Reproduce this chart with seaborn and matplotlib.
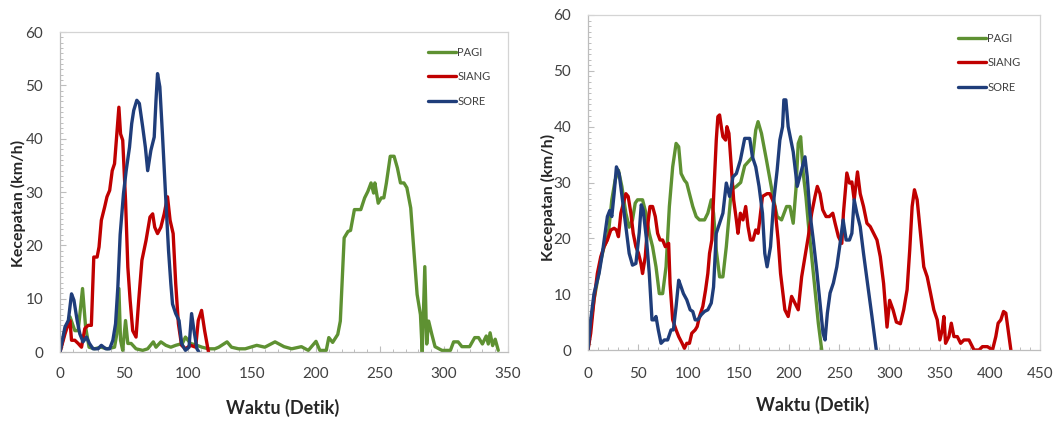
import matplotlib
matplotlib.use("Agg")
import matplotlib.pyplot as plt
from matplotlib.ticker import MultipleLocator
import seaborn as sns
import pandas as pd

# ---------------- data (time in s, speed in km/h) ----------------
series_names = ["PAGI", "SIANG", "SORE"]

left_pagi = [(0, 0), (3.9, 4), (7.8, 6.6), (11.6, 4), (14.2, 4), (17.6, 11.9), (20, 4.7), (22.7, 0.9),
             (27, 0.6), (32, 0.9), (37, 0.6), (42.6, 0.9), (44.4, 3.4), (46, 11.9), (47.3, 2.2), (49, 0.3),
             (51.2, 5.9), (53, 1.6), (55.6, 1.6), (59.4, 0.6), (64.6, 0.3), (68.5, 0.6), (72.9, 1.9),
             (75, 0.9), (78.8, 1.9), (82.7, 1.25), (86.6, 0.9), (90.4, 1.25), (95.6, 1.6), (98, 2.8),
             (102, 1.6), (107, 1.25), (111, 0.9), (116, 0.6), (121, 0.6), (124, 0.9), (130.5, 1.9),
             (134, 0.9), (139.5, 0.6), (144.7, 0.6), (153.7, 1.25), (160, 0.9), (168, 1.9), (175, 1.0),
             (181, 0.6), (188.6, 1.0), (194, 0.3), (200, 2.0), (203, 0.3), (208, 0.3), (210, 2.7),
             (213, 1.8), (217, 3.3), (219, 5.8), (222, 21.4), (225, 22.6), (227, 22.8), (230, 26.7),
             (235, 26.7), (238, 28.9), (240.5, 30.1), (243, 31.7), (245, 29.8), (246, 31.7), (248.6, 27.9),
             (251, 28.9), (253, 28.9), (255, 31.7), (258, 36.7), (261, 36.7), (263.6, 34.5), (266, 31.7),
             (268.7, 31.7), (271, 30.8), (274, 27), (276.5, 18.9), (279, 10.8), (281.6, 7), (283, 0),
             (285, 16), (286.5, 1.5), (288, 5.8), (290.5, 3.3), (293, 1), (298.4, 0.3), (305, 0.3),
             (307.5, 1.9), (311, 1.9), (314, 1), (320, 1), (324, 2.7), (327, 2.7), (330, 1.5), (333, 3),
             (334.6, 1.5), (336, 3.6), (338, 1.2), (340, 2.4), (342.4, 0.3)]

left_siang = [(0, 0), (3.9, 3.4), (6.5, 5.3), (7.8, 5.9), (9, 2.2), (11.6, 2.2), (14.2, 1.6), (16.8, 0.9),
              (19.4, 4.4), (22, 5), (24.5, 5), (26.4, 17.8), (29, 17.8), (30.5, 19.7), (32.3, 24.7),
              (34.9, 27.2), (36.7, 29.1), (38.8, 30.3), (40.8, 34), (42.6, 35.3), (44.4, 40.9), (46, 45.9),
              (47.3, 40.9), (49, 39.7), (51.2, 28.4), (53, 15.9), (54.8, 9.7), (56.8, 4), (59.4, 2.8),
              (61.5, 9.7), (64, 17.2), (67.2, 20.9), (70.3, 25.3), (72.4, 25.9), (74, 23.4), (76.2, 22.2),
              (78.8, 23.4), (81.4, 25.9), (84, 29.1), (86, 24.7), (88.4, 22.2), (90.4, 12.8), (92.5, 5.3),
              (95, 1.25), (98, 0.6), (102, 1.25), (106, 0.9), (108, 5.9), (110.6, 7.8), (113, 4), (116, 0)]

left_sore = [(0, 0), (3.9, 4.7), (6.5, 5.9), (9, 10.9), (10.9, 9.7), (13.4, 5.9), (15.5, 3.4), (18, 1.9),
             (20.7, 2.8), (23, 1.6), (25.8, 0.6), (29.7, 0.6), (32.3, 1.25), (35.7, 0.6), (38.8, 0.6),
             (41.3, 2.2), (43.4, 5.3), (45.2, 12.2), (47, 22), (49.6, 29.7), (51.7, 34), (54.3, 38.4),
             (56, 42.8), (57.6, 45.3), (60, 47.2), (62, 46.6), (64.6, 42.2), (66.7, 38.4), (68.5, 34),
             (71, 37.8), (73.6, 40.3), (75, 47.2), (76.2, 52.2), (78, 49.7), (80, 41), (82.7, 28.4),
             (84.8, 19), (86.6, 12.8), (87.9, 9), (90.4, 7.2), (93, 5.9), (95, 1.6), (98, 0.3),
             (100.8, 0.9), (102.8, 7.2), (104.7, 4), (107, 0.6), (108.5, 0)]

right_pagi = [(0, 0), (3, 5), (6, 9), (9, 12), (12.7, 16), (16, 18.5), (19, 19.7), (21, 22), (23.7, 26.9),
              (27, 30.4), (30.3, 32.2), (33.7, 29.3), (37.7, 24.5), (41, 22), (44.3, 23.3), (47, 26.3),
              (49.3, 26.9), (54.3, 26.9), (57.7, 24.5), (61, 20.9), (64.3, 18.5), (67.7, 14.9), (71, 10.1),
              (74.3, 10.1), (77.7, 14.9), (81, 25.7), (84.3, 32.8), (87.7, 37), (90.3, 36.4), (92.7, 31.6),
              (96, 30.4), (98.3, 29.9), (101, 28), (104.3, 25.7), (107.7, 23.9), (111, 23.3), (116, 23.3),
              (119.3, 24.5), (122.7, 26.9), (125, 24.5), (127.7, 17.9), (131, 13.1), (134.3, 13.1),
              (137.7, 18.5), (142.7, 28.7), (147.7, 29.3), (152, 30), (156, 33), (161, 34), (164, 34.6),
              (167, 39.4), (169.3, 40.9), (172.7, 38.8), (177.7, 34), (184.3, 27.4), (188.3, 23.9),
              (192.7, 23.3), (197.7, 25.7), (201, 25.7), (204.3, 22.7), (207, 28.7), (209.3, 37),
              (211.7, 38.2), (214.3, 31.6), (217, 27.4), (219.3, 22.7), (222.7, 16.7), (226, 10.8),
              (229.3, 4.8), (232.7, 0)]

right_siang = [(0, 0), (2.7, 3), (6, 9), (9.3, 13.7), (12.7, 16.7), (16, 18.5), (19.3, 19.7), (22.7, 21.5),
               (26, 21.8), (28.3, 21.5), (30.3, 20.3), (32.7, 24.5), (35.3, 26.3), (37.7, 28), (40, 27.5),
               (42.7, 24.5), (45, 20.9), (47.7, 18.5), (50.3, 17.3), (52.7, 15.5), (54.3, 13.7), (57, 16.7),
               (59.3, 22.1), (61.7, 25.7), (64.3, 25.7), (67, 23.9), (69.3, 20.9), (71.7, 19.7),
               (74.3, 19.7), (77, 18.5), (80.3, 19.1), (81.7, 11.9), (84.3, 5.4), (87.7, 3.6), (90.3, 2.4),
               (93.7, 1.2), (96, 0.3), (98.3, 1.2), (101, 1.2), (103.3, 3), (106.7, 3.6), (108.7, 4.2),
               (111, 6), (114.3, 7.8), (117, 10.7), (119.3, 13.7), (121, 17.3), (123.3, 19.7), (124.3, 24.5),
               (126, 31), (127.7, 37.6), (129.3, 41.8), (131, 42.1), (132.7, 40), (134.3, 38.2), (137, 37.6),
               (138.3, 40), (140.3, 38.8), (142.7, 32.8), (145, 26.9), (147.7, 23.3), (149.3, 20.9),
               (151.7, 24.5), (154.3, 23.3), (157, 25.7), (159.3, 22.1), (161.7, 19.7), (164.3, 19.7),
               (167, 21.5), (169.3, 20.9), (171, 23.3), (173.7, 27.5), (178.3, 28), (181, 28), (183.7, 26.9),
               (186, 25.7), (189.3, 19.7), (191.7, 13.7), (193.7, 10.7), (196, 7.2), (199.3, 6),
               (202.7, 9.6), (206, 8.4), (209.3, 7.2), (212.7, 13.1), (216, 16.7), (219.3, 20.3),
               (222.7, 24.5), (226, 27.5), (228.3, 29.3), (231, 28), (233.7, 25.1), (237, 23.9),
               (240.3, 23.9), (243.7, 24.5), (246, 22.7), (249.3, 20.3), (252.7, 19.1), (254.3, 24.5),
               (257.7, 31.7), (260.3, 29.9), (262.7, 30.1), (265, 26.9), (268.3, 31.9), (271, 28),
               (274.3, 25.7), (277.7, 22.7), (281, 22.1), (284.3, 20.9), (287.7, 19.7), (291, 16.7),
               (294.3, 11.9), (297.7, 4.1), (300.3, 8.9), (303.7, 7.2), (307, 5), (311, 4.7), (314.3, 7.2),
               (317.7, 10.8), (320.3, 17.9), (322.7, 25.7), (325, 28.7), (327.7, 26.9), (331, 20.9),
               (334.3, 14.9), (337.7, 13.1), (341, 10.2), (344.3, 7.2), (347.7, 5.4), (350.3, 1.8),
               (352.7, 3.6), (354.3, 6), (356, 1.2), (359.3, 2.4), (361.7, 4.8), (364.3, 2.4), (367.7, 2.4),
               (371, 1.2), (374.3, 1.8), (379.3, 1.8), (382.7, 0.6), (384.3, 0), (389.3, 0), (392.7, 0.6),
               (397.7, 0.6), (402.7, 0), (406, 2.4), (408.3, 4.8), (411, 5.4), (413.7, 6.9), (416, 6.6),
               (418.3, 3.6), (421, 0)]

right_sore = [(0, 0), (2.7, 5.4), (6, 10.1), (11, 13.7), (14.3, 17.3), (17, 20.9), (19.3, 23.9), (21.7, 25),
              (23.7, 23.9), (26, 28), (28.3, 32.8), (31, 31.6), (34.3, 26.9), (37.7, 22.1), (41, 17.3),
              (44.3, 15.2), (47.7, 15.5), (51, 21), (53, 26), (55, 25), (58.3, 19.7), (61, 13.7),
              (63.7, 5.4), (66, 5.4), (67.7, 6), (70, 3.6), (72.7, 1.2), (76, 1.8), (79.3, 1.8), (82.7, 3.6),
              (85, 3.6), (87.7, 7.8), (90.3, 12.5), (92.7, 11.3), (95, 10.1), (98.3, 9), (101.7, 7.2),
              (104.3, 6.9), (106.7, 5.4), (109.3, 5.4), (112.7, 6.3), (116, 6.9), (119.3, 7.2),
              (122.7, 8.4), (125, 11.3), (127.7, 20.9), (131, 22.7), (134.3, 24.5), (137.7, 29.9),
              (141, 27.5), (144.3, 31), (147.7, 31.6), (151.7, 34), (156, 37.9), (161, 37.9), (163.7, 34.6),
              (167, 32.8), (170.3, 29.3), (173.7, 24.5), (176, 17.3), (178.3, 14.9), (181.7, 18.5),
              (185, 26.9), (188.3, 32.2), (191, 37.6), (193.7, 40), (195, 44.8), (197, 44.8), (199.3, 40),
              (204.3, 35.5), (208.3, 29.3), (212.7, 32.3), (216, 34.6), (218.3, 31), (221, 24.5),
              (224.3, 19.7), (227.7, 14.3), (231, 8.4), (234, 3), (236, 1.8), (238.3, 6.6), (241, 10.2),
              (244.3, 12), (247.7, 14.9), (251, 19.1), (254, 23.3), (257, 19.7), (260.3, 19.7),
              (262.7, 20.9), (265, 26.9), (267.7, 24.5), (271, 22.1), (274.3, 17.3), (278.3, 11.9),
              (282.7, 6), (287, 0)]

x_label = "Waktu (Detik)"
y_label = "Kecepatan (km/h)"
palette = {"PAGI": "#5E9132", "SIANG": "#C00000", "SORE": "#1F3D7A"}

# ---------------- style ----------------
sns.set_theme(style="white")
plt.rcParams["font.family"] = ["Lato", "DejaVu Sans"]

fig = plt.figure(figsize=(10.57, 4.21), dpi=100)
W, H = 1057, 421
ax_l = fig.add_axes([60 / W, 1 - 352 / H, 448 / W, 320 / H])
ax_r = fig.add_axes([588 / W, 1 - 350 / H, 452 / W, 335 / H])


def frame(pairs_by_name):
    rows = []
    for name in series_names:
        for t, v in pairs_by_name[name]:
            rows.append({"t": t, "v": v, "Sesi": name})
    return pd.DataFrame(rows)


def style_axes(ax, xmax, legend_px, ylab_xy, xlab_y, xpad, ypad):
    ax.set_xlim(0, xmax)
    ax.set_ylim(0, 60)
    ax.xaxis.set_major_locator(MultipleLocator(50))
    ax.xaxis.set_minor_locator(MultipleLocator(10))
    ax.yaxis.set_major_locator(MultipleLocator(10))
    ax.yaxis.set_minor_locator(MultipleLocator(1))
    for s in ax.spines.values():
        s.set_color("#D4D4D4")
        s.set_linewidth(0.9)
    ax.spines["left"].set_color("#BDBDBD")
    ax.spines["bottom"].set_color("#BDBDBD")
    ax.tick_params(axis="both", which="both", direction="in", color="#BDBDBD",
                   bottom=True, left=True, top=False, right=False)
    ax.tick_params(axis="both", which="major", length=4, width=0.8, labelsize=11,
                   labelcolor="#404040")
    ax.tick_params(axis="both", which="minor", length=2.5, width=0.7)
    ax.tick_params(axis="x", which="major", pad=xpad)
    ax.tick_params(axis="y", which="major", pad=ypad)
    ax.set_xlabel(x_label, fontsize=13, fontweight="bold", color="#262626")
    ax.set_ylabel(y_label, fontsize=11.5, fontweight="bold", color="#262626")
    ax.xaxis.label.set_va("center")
    ax.yaxis.label.set_va("center")
    ax.xaxis.set_label_coords(0.497, xlab_y)
    ax.yaxis.set_label_coords(*ylab_xy)
    handles, labels = ax.get_legend_handles_labels()
    ax.legend(handles, labels, loc="upper left",
              bbox_to_anchor=(legend_px[0] / W, 1 - legend_px[1] / H),
              bbox_transform=fig.transFigure, frameon=False, fontsize=8,
              handlelength=2.5, handletextpad=0.15, labelspacing=1.2,
              borderpad=0, borderaxespad=0, labelcolor="#404040")


sns.lineplot(data=frame({"PAGI": left_pagi, "SIANG": left_siang, "SORE": left_sore}),
             x="t", y="v", hue="Sesi", hue_order=series_names, palette=palette,
             sort=False, estimator=None, linewidth=2.4, ax=ax_l)
sns.lineplot(data=frame({"PAGI": right_pagi, "SIANG": right_siang, "SORE": right_sore}),
             x="t", y="v", hue="Sesi", hue_order=series_names, palette=palette,
             sort=False, estimator=None, linewidth=2.4, ax=ax_r)

style_axes(ax_l, 350, (428, 47), (-42 / 448, (352 - 203) / 320), -56 / 320, 11, 12)
style_axes(ax_r, 450, (958, 33), (-40 / 452, (350 - 197) / 335), -55 / 335, 12, 12)

fig.savefig("out.png", dpi=100, facecolor="white")
